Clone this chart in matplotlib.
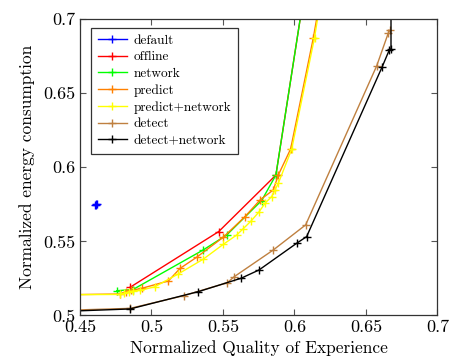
import matplotlib
matplotlib.use('Agg')
import matplotlib.pyplot as plt

plt.rcParams['font.family'] = 'serif'
plt.rcParams['font.serif'] = ['cmr10']
plt.rcParams['axes.formatter.use_mathtext'] = True

# data
default_x = [0.4605, 0.4610, 0.4615, 0.4620]
default_y = [0.5745, 0.5750, 0.5745, 0.5750]

offline_x = [0.485, 0.547, 0.587, 0.6072]
offline_y = [0.519, 0.5566, 0.5947, 0.72]

network_x = [0.4757, 0.487, 0.5358, 0.5526, 0.577, 0.587, 0.6072]
network_y = [0.5167, 0.5175, 0.544, 0.5543, 0.5775, 0.5947, 0.72]

predict_x = [0.44, 0.478, 0.482, 0.486, 0.4931, 0.5118, 0.520, 0.5316, 0.5502,
             0.5654, 0.5759, 0.5852, 0.5887, 0.5973, 0.6132, 0.6191]
predict_y = [0.514, 0.5145, 0.516, 0.517, 0.5183, 0.5233, 0.5318, 0.5393, 0.5528,
             0.5667, 0.5779, 0.5847, 0.5948, 0.6123, 0.6874, 0.72]

prednet_x = [0.44, 0.478, 0.481, 0.484, 0.487, 0.492, 0.5024, 0.5187, 0.5362, 0.5502,
             0.5596, 0.5642, 0.5695, 0.5753, 0.5794, 0.584, 0.5864, 0.5887, 0.598,
             0.614, 0.6195]
prednet_y = [0.514, 0.5142, 0.515, 0.516, 0.5165, 0.5169, 0.5194, 0.528, 0.538, 0.548,
             0.5543, 0.5586, 0.5636, 0.570, 0.5757, 0.5802, 0.5847, 0.5892, 0.612,
             0.6874, 0.72]

detect_x = [0.44, 0.485, 0.5227, 0.553, 0.5579, 0.5852, 0.6078, 0.6575, 0.6656, 0.667]
detect_y = [0.5035, 0.5048, 0.5134, 0.5221, 0.5262, 0.5442, 0.5611, 0.6684, 0.6905, 0.6928]

detnet_x = [0.44, 0.485, 0.5328, 0.5626, 0.5752, 0.6015, 0.6085, 0.6614, 0.6663, 0.6675, 0.6675]
detnet_y = [0.5028, 0.5044, 0.5161, 0.5251, 0.5307, 0.5487, 0.5532, 0.6679, 0.6791, 0.680, 0.72]

series = [
    ('default', default_x, default_y, (0, 0, 1)),
    ('offline', offline_x, offline_y, (1, 0, 0)),
    ('network', network_x, network_y, (0, 1, 0)),
    ('predict', predict_x, predict_y, (1, 0.5, 0)),
    ('predict+network', prednet_x, prednet_y, (1, 1, 0)),
    ('detect', detect_x, detect_y, (0.75, 0.5, 0.25)),
    ('detect+network', detnet_x, detnet_y, (0, 0, 0)),
]

fig = plt.figure(figsize=(4.51, 3.62), dpi=100)
ax = fig.add_axes([0.1774, 0.1285, 0.7926, 0.819])

for name, xs, ys, c in series:
    ax.plot(xs, ys, color=c, linewidth=1.0, marker='+', markersize=6,
            markeredgewidth=1.0, label=name)

ax.set_xlim(0.45, 0.7)
ax.set_ylim(0.5, 0.7)
ax.set_xticks([0.45, 0.5, 0.55, 0.6, 0.65, 0.7])
ax.set_xticklabels(['0.45', '0.5', '0.55', '0.6', '0.65', '0.7'])
ax.set_yticks([0.5, 0.55, 0.6, 0.65, 0.7])
ax.set_yticklabels(['0.5', '0.55', '0.6', '0.65', '0.7'])
ax.tick_params(direction='in', top=True, right=True, length=4, labelsize=13,
               color='#555555', pad=3)
for s in ax.spines.values():
    s.set_linewidth(0.9)
    s.set_color('#333333')

ax.set_xlabel('Normalized Quality of Experience', fontsize=12.5, labelpad=4)
ax.set_ylabel('Normalized energy consumption', fontsize=12.5, labelpad=6)

leg = ax.legend(loc='upper left', bbox_to_anchor=(0.031, 0.97), borderaxespad=0,
                fontsize=9.6, fancybox=False, edgecolor='#333333', framealpha=1,
                handlelength=2.2, labelspacing=0.32, handletextpad=0.5,
                borderpad=0.5)
leg.get_frame().set_linewidth(0.9)

plt.savefig('out.png', dpi=100)
plt.close()
